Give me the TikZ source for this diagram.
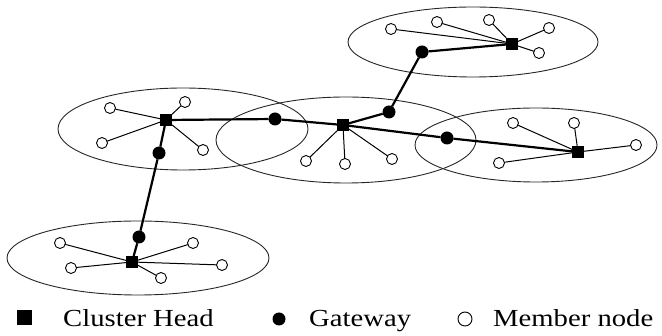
\documentclass[tikz,border=0pt]{standalone}
\usepackage{fontspec}
\setmainfont{Liberation Serif}
\usetikzlibrary{shapes.geometric}
\tikzset{
  netnode/.style = {inner sep=0pt, outer sep=0pt},
  ch/.style = {netnode, rectangle, fill=black, minimum size=12pt},% cluster head (black box)
  gw/.style = {netnode, circle, fill=black, minimum size=13pt},% gateway (black dot)
  mb/.style = {netnode, circle, draw=black, fill=white, line width=0.9pt,
    minimum size=11pt},% member node (white circle)
  cl/.style = {netnode, ellipse, draw=black!85, line width=0.9pt},% cluster area
  bb/.style = {line width=2.2pt},% backbone link
  ml/.style = {line width=1pt},% member link
  lg/.style = {anchor=base west, inner sep=0pt, xscale=1.17,
    font=\fontsize{24.5}{28}\selectfont}% legend text
}
\begin{document}
\begin{tikzpicture}[x=1pt, y=-1pt]
\useasboundingbox (0,0) rectangle (662,336);
% cluster areas
\node [cl, minimum width=250pt, minimum height=82pt] (C1) at (183,129) {};
\node [cl, minimum width=260pt, minimum height=86pt] (C2) at (346,140) {};
\node [cl, minimum width=250pt, minimum height=70pt] (C3) at (473,42) {};
\node [cl, minimum width=242pt, minimum height=74pt] (C4) at (536,145) {};
\node [cl, minimum width=262pt, minimum height=74pt] (C5) at (138,258) {};
% cluster heads
\node [ch] (H1) at (166,120) {};
\node [ch] (H2) at (343,125) {};
\node [ch] (H3) at (512,44) {};
\node [ch] (H4) at (578,152) {};
\node [ch] (H5) at (132,262) {};
% gateways
\node [gw] (G1) at (159,153) {};
\node [gw] (G2) at (275,119) {};
\node [gw] (G3) at (422,52) {};
\node [gw] (G4) at (389,112) {};
\node [gw] (G5) at (447,138) {};
\node [gw] (G6) at (139,237) {};
% backbone
\draw [bb] (H5) -- (G6) -- (G1) -- (H1) -- (G2) -- (H2) -- (G4) -- (G3) -- (H3);
\draw [bb] (H2) -- (G5) -- (H4);
% member nodes
\foreach \x/\y [count=\i] in {110/108,185/102,102/143,203/150}
  {\node [mb] (M1\i) at (\x,\y) {}; \draw [ml] (H1) -- (M1\i);}
\foreach \x/\y [count=\i] in {306/161,345/164,392/159}
  {\node [mb] (M2\i) at (\x,\y) {}; \draw [ml] (H2) -- (M2\i);}
\foreach \x/\y [count=\i] in {391/29,437/22,489/20,549/28,539/53}
  {\node [mb] (M3\i) at (\x,\y) {}; \draw [ml] (H3) -- (M3\i);}
\foreach \x/\y [count=\i] in {513/123,574/123,636/145,499/163}
  {\node [mb] (M4\i) at (\x,\y) {}; \draw [ml] (H4) -- (M4\i);}
\foreach \x/\y [count=\i] in {60/243,193/243,71/268,222/265,161/278}
  {\node [mb] (M5\i) at (\x,\y) {}; \draw [ml] (H5) -- (M5\i);}
% legend
\node [ch, minimum size=15pt] (L1) at (24,318) {};
\node [lg] (T1) at (63,327) {Cluster Head};
\node [gw] (L2) at (279,319) {};
\node [lg] (T2) at (309,327) {Gateway};
\node [mb, minimum size=14pt] (L3) at (465,319) {};
\node [lg] (T3) at (493,327) {Member node};
\end{tikzpicture}
\end{document}
